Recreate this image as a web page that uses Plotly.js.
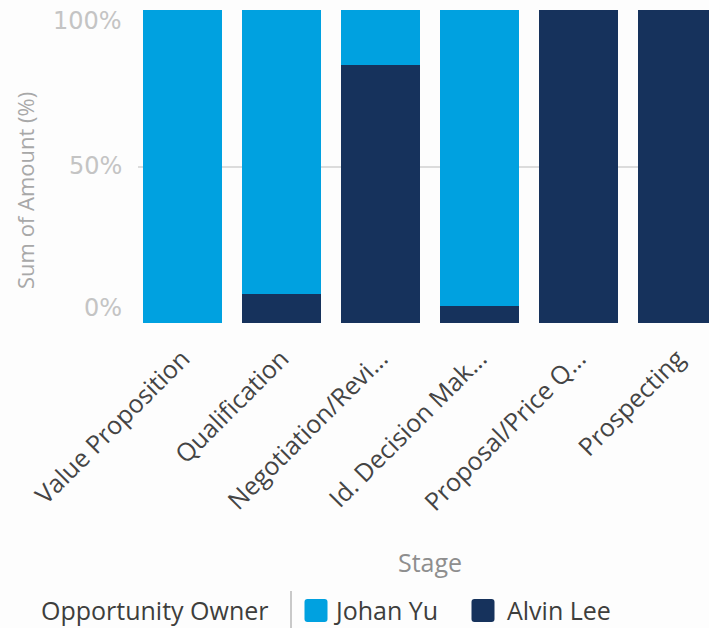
<!DOCTYPE html>
<html>
<head>
<meta charset="utf-8">
<script src="https://cdn.plot.ly/plotly-3.0.1.min.js"></script>
<style>html,body{margin:0;padding:0;background:#fdfdfd;}#chart{width:709px;height:628px;}</style>
</head>
<body>
<div id="chart"></div>
<script>
// ---- data ----
var stages = ["Value Proposition", "Qualification", "Negotiation/Review", "Id. Decision Makers", "Proposal/Price Quote", "Prospecting"];
var stageTickLabels = ["Value Proposition", "Qualification", "Negotiation/Revi...", "Id. Decision Mak...", "Proposal/Price Q...", "Prospecting"];
var seriesNames = ["Johan Yu", "Alvin Lee"];
var johanYu = [100, 90.8, 17.5, 94.5, 0, 0];
var alvinLee = [0, 9.2, 82.5, 5.5, 100, 100];
var yTickValues = [0, 50, 100];
var yTickLabels = ["0%", "50%", "100%"];
var legendTitle = "Opportunity Owner";
var xTitle = "Stage";
var yTitle = "Sum of Amount (%)";

// ---- layout helpers ----
var W = 709, H = 628;
var L = 138, R = 709, T = 10, B = 323;
function px(x) { return (x - L) / (R - L); }
function py(y) { return (B - y) / (B - T); }

var colJohan = "#00a1e0", colAlvin = "#16325c";
var font = "Open Sans, Lato, sans-serif";

var traces = [
  { type: "bar", name: seriesNames[1], x: stages, y: alvinLee, marker: { color: colAlvin, line: { width: 0 } }, hoverinfo: "none" },
  { type: "bar", name: seriesNames[0], x: stages, y: johanYu, marker: { color: colJohan, line: { width: 0 } }, hoverinfo: "none" }
];

var tickShift = [15, 1, -11];
var annotations = [];
for (var i = 0; i < yTickValues.length; i++) {
  annotations.push({ xref: "paper", yref: "y", x: px(124), y: yTickValues[i], xanchor: "right", yanchor: "middle",
    yshift: tickShift[i], text: yTickLabels[i], showarrow: false, font: { family: "DejaVu Sans, sans-serif", size: 24, color: "#c4c4c4" } });
}
annotations.push({ xref: "paper", yref: "paper", x: px(25), y: py(191), textangle: -90, xanchor: "center", yanchor: "middle",
  text: yTitle, showarrow: false, font: { family: font, size: 22, color: "#a8a8a8" } });
annotations.push({ xref: "paper", yref: "paper", x: px(430), y: py(562), xanchor: "center", yanchor: "middle",
  text: xTitle, showarrow: false, font: { family: font, size: 25, color: "#8e8e8e" } });
annotations.push({ xref: "paper", yref: "paper", x: px(271), y: py(610), xanchor: "right", yanchor: "middle",
  text: legendTitle, showarrow: false, font: { family: font, size: 25, color: "#3e3e3c" } });
annotations.push({ xref: "paper", yref: "paper", x: px(332), y: py(610), xanchor: "left", yanchor: "middle",
  text: seriesNames[0], showarrow: false, font: { family: font, size: 25, color: "#3e3e3c" } });
annotations.push({ xref: "paper", yref: "paper", x: px(505), y: py(610), xanchor: "left", yanchor: "middle",
  text: seriesNames[1], showarrow: false, font: { family: font, size: 25, color: "#3e3e3c" } });

var sw = "M -8.5,-11.5 H 8.5 Q 11.5,-11.5 11.5,-8.5 V 8.5 Q 11.5,11.5 8.5,11.5 H -8.5 Q -11.5,11.5 -11.5,8.5 V -8.5 Q -11.5,-11.5 -8.5,-11.5 Z";
var shapes = [
  { type: "line", xref: "paper", yref: "paper", x0: px(291), x1: px(291), y0: py(591), y1: py(628), line: { color: "#c9c9c9", width: 2 } },
  { type: "path", xref: "paper", yref: "paper", xsizemode: "pixel", ysizemode: "pixel", xanchor: px(316), yanchor: py(610.5), path: sw, fillcolor: colJohan, line: { width: 0 } },
  { type: "path", xref: "paper", yref: "paper", xsizemode: "pixel", ysizemode: "pixel", xanchor: px(483), yanchor: py(610.5), path: sw, fillcolor: colAlvin, line: { width: 0 } }
];

var layout = {
  width: W, height: H,
  margin: { l: L, r: W - R, t: T, b: H - B, pad: 0 },
  paper_bgcolor: "#fdfdfd", plot_bgcolor: "#fdfdfd",
  barmode: "stack", bargap: 0.202,
  showlegend: false,
  xaxis: {
    type: "category", range: [-0.449, 5.318], tickangle: -45,
    tickvals: stages, ticktext: stageTickLabels,
    tickfont: { family: font, size: 25, color: "#444444" },
    ticklabelstandoff: 15,
    showline: false, showgrid: false, zeroline: false, ticks: "", ticklen: 0, fixedrange: true
  },
  yaxis: {
    range: [0, 100], tickvals: yTickValues, showticklabels: false,
    showgrid: true, gridcolor: "#dcdcdc", gridwidth: 2, zeroline: false, showline: false, ticks: "", fixedrange: true
  },
  annotations: annotations,
  shapes: shapes
};

Plotly.newPlot("chart", traces, layout, { displayModeBar: false, staticPlot: true });
</script>
</body>
</html>
